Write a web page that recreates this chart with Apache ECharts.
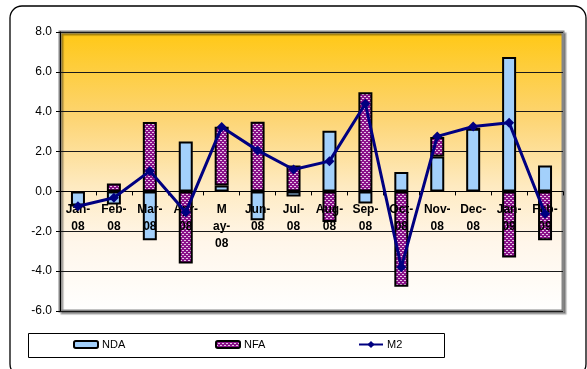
<!DOCTYPE html>
<html><head><meta charset="utf-8">
<script src="https://cdn.jsdelivr.net/npm/echarts@6/dist/echarts.min.js"></script>
<style>html,body{margin:0;padding:0;background:#fff}#c{width:587px;height:369px}</style>
</head><body><div id="c"></div>
<script>
const categories = ['Jan-08','Feb-08','Mar-08','Apr-08','May-08','Jun-08','Jul-08','Aug-08','Sep-08','Oct-08','Nov-08','Dec-08','Jan-09','Feb-09'];
const tickLabels = ['Jan-\n08','Feb-\n08','Mar-\n08','Apr-\n08','M\nay-\n08','Jun-\n08','Jul-\n08','Aug-\n08','Sep-\n08','Oct-\n08','Nov-\n08','Dec-\n08','Jan-\n09','Feb-\n09'];
const ndaValues = [-0.7, -0.65, -2.45, 2.5, 0.3, -1.45, -0.25, 3.05, -0.6, 0.97, 1.75, 3.15, 6.75, 1.3];
const nfaValues = [0, 0.4, 3.48, -3.62, 2.95, 3.5, 1.3, -1.53, 4.98, -4.78, 0.98, 0, -3.32, -2.45];
const m2Values = [-0.74, -0.32, 1.02, -1.05, 3.23, 2.06, 1.1, 1.52, 4.4, -3.8, 2.76, 3.26, 3.45, -1.12];
const yTicks = {min: -6, max: 8, interval: 2};

const pc = document.createElement('canvas');
pc.width = 4; pc.height = 4;
const px = pc.getContext('2d');
px.fillStyle = '#8A128A'; px.fillRect(0,0,4,4);
px.fillStyle = '#E6C4E6';
px.fillRect(0,0,2,1); px.fillRect(2,2,2,1);
const nfaPattern = {image: pc, repeat: 'repeat'};

const font = 'Liberation Sans, Arial, sans-serif';
const gridTop = 32, gridBottom = 58, H = 369;
const plotH = H - gridTop - gridBottom;
const zeroOffset = -plotH * (0 - yTicks.min) / (yTicks.max - yTicks.min);

const chart = echarts.init(document.getElementById('c'), null, {renderer:'canvas'});
const legendCommon = {orient:'horizontal', padding:0, itemHeight:7, itemWidth:24, itemGap:0,
  textStyle:{fontFamily:font, fontSize:11, color:'#000', padding:[0,0,0,-1]}, selectedMode:false, top:339};
chart.setOption({
  animation:false,
  textStyle:{fontFamily:font},
  graphic:[
    {type:'rect', shape:{x:10, y:6, width:576, height:370, r:12}, style:{fill:'none', stroke:'#000', lineWidth:1.3}, z:-10},
    {type:'rect', shape:{x:28.5, y:333.5, width:416, height:24}, style:{fill:'#fff', stroke:'#000', lineWidth:1}, z:-5}
  ],
  grid:{left:60, right:24, top:gridTop, bottom:gridBottom, show:true,
    backgroundColor:{type:'linear', x:0, y:0, x2:0, y2:1, colorStops:[{offset:0, color:'#FFC814'},{offset:0.3, color:'#FDD470'},{offset:0.55, color:'#FEEAC0'},{offset:0.75, color:'#FFF6EA'},{offset:1, color:'#FFFFFF'}]},
    borderColor:'#858585', borderWidth:3, shadowColor:'rgba(0,0,0,0.35)', shadowOffsetX:2, shadowOffsetY:2, shadowBlur:1},
  legend:[
    Object.assign({}, legendCommon, {left:73, data:[{name:'NDA', itemStyle:{borderColor:'#000', borderWidth:2}}]}),
    Object.assign({}, legendCommon, {left:215, data:[{name:'NFA', itemStyle:{borderColor:'#000', borderWidth:2}}]}),
    Object.assign({}, legendCommon, {left:358, data:['M2'], itemHeight:9})
  ],
  xAxis:{type:'category', data:categories, z:3, offset:zeroOffset,
    axisLine:{onZero:false, lineStyle:{color:'#000', width:1}},
    axisTick:{show:true, length:4, lineStyle:{color:'#000'}},
    axisLabel:{interval:0, margin:10, fontWeight:'bold', fontSize:12, lineHeight:17, color:'#000', fontFamily:font,
      formatter:(v, i) => tickLabels[i]}},
  yAxis:{type:'value', min:yTicks.min, max:yTicks.max, interval:yTicks.interval,
    axisLine:{show:true, lineStyle:{color:'#000'}},
    axisTick:{show:true, length:4, lineStyle:{color:'#000'}},
    axisLabel:{formatter:v => v.toFixed(1), fontSize:12, color:'#000', margin:8, fontFamily:font},
    splitLine:{show:true, lineStyle:{color:'#1a1a1a', width:1}}},
  series:[
    {name:'NDA', type:'bar', stack:'s', data:ndaValues, barWidth:14, z:2,
      itemStyle:{color:'#A3D0FB', borderColor:'#000', borderWidth:2}},
    {name:'NFA', type:'bar', stack:'s', data:nfaValues, barWidth:14, z:2,
      itemStyle:{color:nfaPattern, borderColor:'#000', borderWidth:2}},
    {name:'M2', type:'line', data:m2Values, z:5, symbol:'diamond', symbolSize:10,
      lineStyle:{color:'#000080', width:3}, itemStyle:{color:'#000080'}}
  ]
});
</script></body></html>
